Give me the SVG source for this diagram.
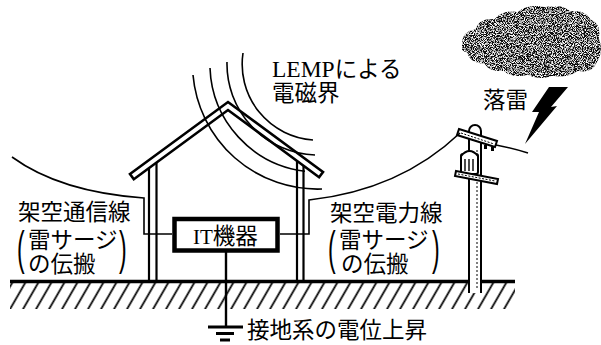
<svg xmlns="http://www.w3.org/2000/svg" width="601" height="345" viewBox="0 0 601 345">
  <defs>
    <style>
      .ln { fill: none; stroke: #000; stroke-linecap: butt; }
      .thin { stroke-width: 1.6; }
      .mid { stroke-width: 2.2; }
      .thick { stroke-width: 2.6; }
      .jp { font-family: "Noto Sans CJK JP", "Noto Sans", sans-serif; font-size: 22.5px; fill: #000; }
      .lat { font-family: "Liberation Serif", serif; fill: #000; }
      .paren { font-family: "Liberation Sans", sans-serif; font-size: 46px; fill: #000; }
    </style>
    <!-- diagonal earth hatching -->
    <pattern id="hatch" patternUnits="userSpaceOnUse" width="13" height="30" patternTransform="skewX(-30)">
      <line x1="6.5" y1="0" x2="6.5" y2="30" stroke="#000" stroke-width="2"/>
    </pattern>
    <!-- speckled storm-cloud texture -->
    <filter id="speckle" x="0" y="0" width="100%" height="100%">
      <feTurbulence type="fractalNoise" baseFrequency="1.1" numOctaves="1" seed="7" result="noise"/>
      <feColorMatrix in="noise" type="matrix" values="0 0 0 0 1  0 0 0 0 1  0 0 0 0 1  5 0 0 0 -2.3" result="white"/>
      <feComposite in="white" in2="SourceGraphic" operator="in" result="dots"/>
      <feMerge>
        <feMergeNode in="SourceGraphic"/>
        <feMergeNode in="dots"/>
      </feMerge>
    </filter>
  </defs>

  <rect x="0" y="0" width="601" height="345" fill="#fff"/>

  <!-- ground surface and hatching -->
  <g id="ground">
    <rect x="10" y="283" width="505" height="26" fill="url(#hatch)"/>
    <line class="ln" x1="10" y1="281.5" x2="515" y2="281.5" stroke-width="3.6"/>
  </g>

  <!-- house -->
  <g id="house">
    <path class="ln thick" stroke-linejoin="miter" d="M130,174 L228,102 L323,172 L319.1,177.2 L228,110 L133.8,179.2 Z"/>
    <line class="ln mid" x1="149" y1="168" x2="149" y2="281"/>
    <line class="ln mid" x1="156.5" y1="162.5" x2="156.5" y2="281"/>
    <line class="ln mid" x1="297" y1="160.9" x2="297" y2="281"/>
    <line class="ln mid" x1="303.5" y1="165.7" x2="303.5" y2="281"/>
  </g>

  <!-- electromagnetic field arcs -->
  <g id="lemp-field">
    <path class="ln thin" d="M243,53 A76,76 0 0 0 313,140"/>
    <path class="ln thin" d="M227,62 A91,91 0 0 0 315,155"/>
    <path class="ln thin" d="M210,68 A108,108 0 0 0 305,171.2"/>
    <path class="ln thin" d="M193,75 A125,125 0 0 0 322,189"/>
  </g>

  <!-- utility pole -->
  <g id="pole">
    <path d="M469,293 V131 A6,6 0 0 1 481,131 V293" fill="#fff" stroke="#000" stroke-width="2"/>
    <line x1="477" y1="150" x2="477" y2="290" stroke="#000" stroke-width="1" stroke-dasharray="2 2"/>
    <!-- upper cross-arm -->
    <polygon points="459,129 497,141 495,147 457,135" fill="#fff" stroke="#000" stroke-width="2"/>
    <line x1="461" y1="133" x2="494" y2="144" stroke="#000" stroke-width="1" stroke-dasharray="2 1.5"/>
    <rect x="484" y="145" width="3" height="4" fill="#000"/>
    <rect x="491" y="147" width="3" height="4" fill="#000"/>
    <!-- transformer -->
    <rect x="461" y="154" width="17" height="20" rx="2" fill="#fff" stroke="#000" stroke-width="2"/>
    <path d="M461,156 Q469.5,146 478,156" fill="#fff" stroke="#000" stroke-width="2"/>
    <line x1="465" y1="159" x2="465" y2="171" stroke="#000" stroke-width="1.4"/>
    <line x1="469" y1="159" x2="469" y2="171" stroke="#000" stroke-width="1.4"/>
    <line x1="473" y1="159" x2="473" y2="171" stroke="#000" stroke-width="1.4"/>
    <!-- lower cross-arm -->
    <polygon points="456,171 498,179 497,184 455,176" fill="#fff" stroke="#000" stroke-width="2"/>
    <line x1="458" y1="174" x2="495" y2="181" stroke="#000" stroke-width="1" stroke-dasharray="2 1.5"/>
  </g>

  <!-- storm cloud and lightning -->
  <g id="cloud">
    <path filter="url(#speckle)" fill="#111" stroke="#000" stroke-width="1.5" d="M463,45 Q462,32 476,30 Q480,18 495,20 Q503,10 518,13 Q528,4 545,8 Q560,4 570,12 Q585,10 590,20 Q601,25 598,38 Q603,52 596,62 Q592,73 578,70 Q568,78 552,75 Q540,80 528,74 Q512,78 504,70 Q490,72 485,63 Q470,62 468,52 Q460,50 463,45 Z"/>
  </g>
  <g id="lightning">
    <polygon points="549,87 568,87 551,107 557,106 525,144 539,112 532,112" fill="#000"/>
  </g>

  <!-- IT equipment -->
  <g id="it-equipment">
    <rect x="174.5" y="219" width="103" height="31.5" fill="#fff" stroke="#000" stroke-width="4.5"/>
    <text x="193" y="244" class="jp" font-size="21"><tspan class="lat" font-size="21">IT</tspan>機器</text>
  </g>

  <!-- earthing -->
  <g id="earth">
    <line class="ln" x1="226" y1="252" x2="226" y2="327" stroke-width="2.4"/>
    <line class="ln" x1="208" y1="327" x2="243" y2="327" stroke-width="3"/>
    <line class="ln" x1="216" y1="333.5" x2="234" y2="333.5" stroke-width="3"/>
    <line class="ln" x1="220" y1="340" x2="230" y2="340" stroke-width="3"/>
  </g>

  <!-- connectors: overhead lines into the equipment -->
  <g id="connectors">
    <path class="ln thin" d="M12,157 Q60,192 144,198 V234 H172"/>
    <path class="ln thin" d="M280,234 H309 V200 Q400,190 460,133"/>
    <path class="ln thin" d="M496,145 Q512,148 528,153"/>
  </g>

  <!-- labels -->
  <g id="labels">
    <text x="272" y="77" class="jp"><tspan class="lat" font-size="23.5">LEMP</tspan>による</text>
    <text x="272" y="101" class="jp">電磁界</text>
    <text x="483" y="108" class="jp" font-size="22">落雷</text>

    <text x="18" y="220" class="jp">架空通信線</text>
    <text x="28" y="248" class="jp">雷サージ</text>
    <text x="28" y="272" class="jp">の伝搬</text>
    <text class="paren" transform="translate(17,264) scale(0.5,1)">(</text>
    <text class="paren" transform="translate(119,264) scale(0.5,1)">)</text>

    <text x="330" y="221" class="jp">架空電力線</text>
    <text x="339" y="248" class="jp">雷サージ</text>
    <text x="341" y="272" class="jp">の伝搬</text>
    <text class="paren" transform="translate(328,264) scale(0.5,1)">(</text>
    <text class="paren" transform="translate(432,264) scale(0.5,1)">)</text>

    <text x="247" y="338" class="jp">接地系の電位上昇</text>
  </g>
</svg>
